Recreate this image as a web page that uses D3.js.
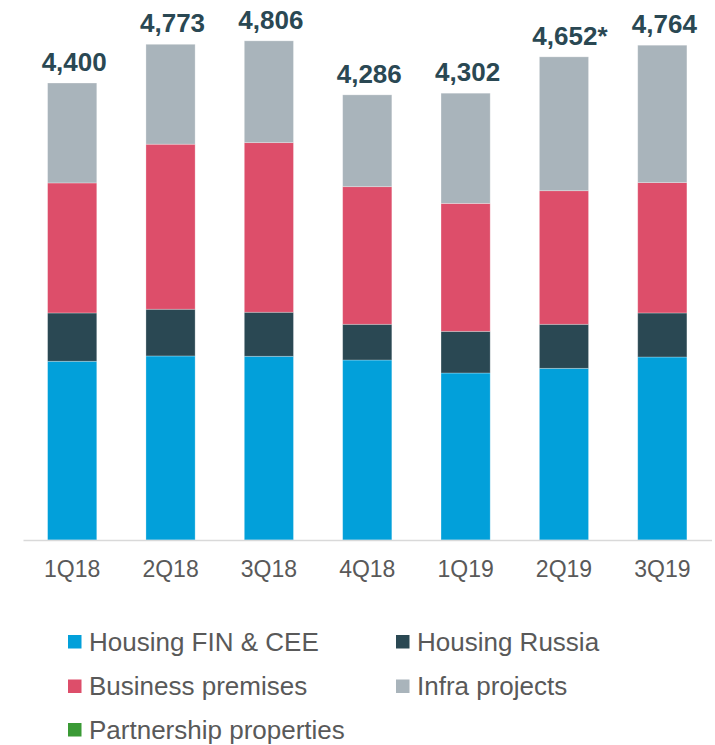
<!DOCTYPE html>
<html>
<head>
<meta charset="utf-8">
<script src="https://cdn.jsdelivr.net/npm/d3@7"></script>
<style>
  html, body { margin: 0; padding: 0; background: #ffffff; }
  svg { display: block; }
</style>
</head>
<body>
<svg id="chart" width="715" height="745"></svg>
<script>
// ---- Data (EUR million) ----
const quarters = ["1Q18", "2Q18", "3Q18", "4Q18", "1Q19", "2Q19", "3Q19"];
const housingFinCee = [1721, 1772, 1769, 1733, 1608, 1653, 1762];
const housingRussia = [465, 450, 424, 344, 401, 424, 424];
const businessPremises = [1252, 1589, 1633, 1325, 1232, 1286, 1255];
const infraProjects = [962, 962, 980, 884, 1061, 1289, 1323];
const partnershipProperties = [0, 0, 0, 0, 0, 0, 0];
const totalLabels = ["4,400", "4,773", "4,806", "4,286", "4,302", "4,652*", "4,764"];

const seriesNames = ["Housing FIN & CEE", "Housing Russia", "Business premises", "Infra projects", "Partnership properties"];
const seriesColors = ["#02a0da", "#2a4853", "#dd4e6a", "#a9b4bb", "#3a9a35"];
const seriesValues = [housingFinCee, housingRussia, businessPremises, infraProjects, partnershipProperties];

// table for d3.stack
const rows = quarters.map((q, i) => {
  const r = { quarter: q };
  seriesNames.forEach((s, j) => { r[s] = seriesValues[j][i]; });
  return r;
});

const svg = d3.select("#chart");

const x = d3.scaleBand()
  .domain(quarters)
  .range([23, 711.5])
  .paddingInner(0.5)
  .paddingOuter(0.25);

const y = d3.scaleLinear()
  .domain([0, 5000])
  .range([540, 20.7]);

const color = d3.scaleOrdinal().domain(seriesNames).range(seriesColors);

const stacked = d3.stack().keys(seriesNames)(rows);

// bars
svg.append("g")
  .selectAll("g")
  .data(stacked)
  .join("g")
    .attr("fill", d => color(d.key))
  .selectAll("rect")
  .data(d => d)
  .join("rect")
    .attr("x", d => x(d.data.quarter))
    .attr("width", x.bandwidth())
    .attr("y", d => y(d[1]))
    .attr("height", d => Math.max(0, y(d[0]) - y(d[1])))
    .attr("stroke", "rgba(255,255,255,0.35)")
    .attr("stroke-width", 0.8);

// axis
const axis = svg.append("g")
  .attr("transform", "translate(0,540)")
  .call(d3.axisBottom(x).tickSize(0).tickPadding(20.5));
axis.select(".domain").attr("stroke", "#d9d9d9").attr("stroke-width", 1.3);
axis.selectAll("text")
  .attr("fill", "#595959")
  .style("font-family", "'Liberation Sans', Arial, sans-serif")
  .style("font-size", "23px");

// total labels
const totals = rows.map(r => d3.sum(seriesNames, s => r[s]));
svg.append("g")
  .selectAll("text")
  .data(quarters)
  .join("text")
    .attr("x", (q, i) => x(q) + x.bandwidth() / 2 + (totalLabels[i].endsWith("*") ? 6 : 2))
    .attr("y", (q, i) => y(totals[i]) - 12)
    .attr("text-anchor", "middle")
    .attr("fill", "#2a4853")
    .style("font-family", "'Liberation Sans', Arial, sans-serif")
    .style("font-weight", "bold")
    .style("font-size", "26px")
    .text((q, i) => totalLabels[i]);

// legend
const legendPos = [
  { x: 68, y: 635 }, { x: 396, y: 635 },
  { x: 68, y: 679.5 }, { x: 396, y: 679.5 },
  { x: 68, y: 723 }
];
const legend = svg.append("g")
  .selectAll("g")
  .data(seriesNames)
  .join("g")
    .attr("transform", (d, i) => `translate(${legendPos[i].x},${legendPos[i].y})`);
legend.append("rect")
  .attr("width", 13.5)
  .attr("height", 13.5)
  .attr("fill", d => color(d));
legend.append("text")
  .attr("x", 21)
  .attr("y", 15.7)
  .attr("fill", "#595959")
  .style("font-family", "'Liberation Sans', Arial, sans-serif")
  .style("font-size", "26px")
  .text(d => d);
</script>
</body>
</html>
